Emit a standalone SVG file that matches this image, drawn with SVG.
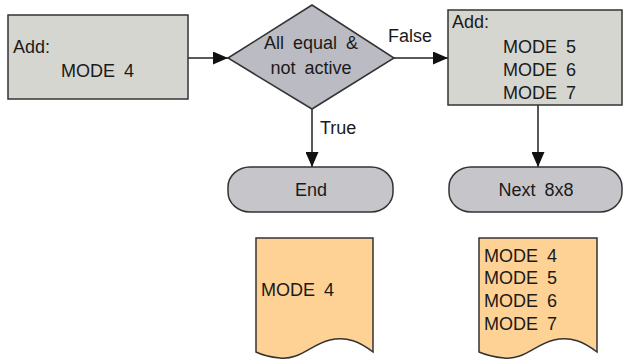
<svg xmlns="http://www.w3.org/2000/svg" width="625" height="362" viewBox="0 0 625 362">
<defs>
<style>
text{font-family:"Liberation Sans",Arial,sans-serif;font-size:18px;fill:#1a1a1a;word-spacing:4px}
.box{fill:#d6d6d0;stroke:#333;stroke-width:1.5}
.dia{fill:#bbbbc3;stroke:#333;stroke-width:1.5}
.term{fill:#c6c6ca;stroke:#333;stroke-width:1.5}
.doc{fill:#fed294;stroke:#333;stroke-width:1.5}
.conn{stroke:#222;stroke-width:1.5;fill:none;marker-end:url(#ah)}
</style>
<marker id="ah" viewBox="0 0 10 10" refX="10" refY="5" markerWidth="15" markerHeight="13" markerUnits="userSpaceOnUse" orient="auto" preserveAspectRatio="none">
<path d="M0,0 L10,5 L0,10 z" fill="#111"/>
</marker>
</defs>
<g id="connectors">
<line class="conn" x1="188" y1="58" x2="228" y2="58"/>
<line class="conn" x1="394" y1="58" x2="448" y2="58"/>
<line class="conn" x1="312" y1="109" x2="312" y2="167"/>
<line class="conn" x1="538" y1="105" x2="538" y2="167"/>
<text x="388" y="42">False</text>
<text x="320" y="134">True</text>
</g>
<g id="add1">
<rect class="box" x="8" y="15" width="180" height="84"/>
<text x="13" y="53">Add:</text>
<text x="61" y="77">MODE 4</text>
</g>
<g id="decision">
<polygon class="dia" points="228,58 312,5 394,58 312,109"/>
<text x="311" y="49" text-anchor="middle">All equal &amp;</text>
<text x="311" y="74" text-anchor="middle">not active</text>
</g>
<g id="add2">
<rect class="box" x="448" y="10" width="174" height="95"/>
<text x="452" y="28">Add:</text>
<text x="503" y="53">MODE 5</text>
<text x="503" y="76">MODE 6</text>
<text x="503" y="99">MODE 7</text>
</g>
<g id="end">
<rect class="term" x="228" y="167" width="165" height="45" rx="22" ry="20"/>
<text x="311" y="196" text-anchor="middle">End</text>
</g>
<g id="next">
<rect class="term" x="449" y="167" width="173" height="45" rx="22" ry="20"/>
<text x="536" y="196" text-anchor="middle">Next 8x8</text>
</g>
<g id="doc1">
<path class="doc" d="M256,238 H373 V352 C360,342 347,336 330,340 C310,345 300,360 280,358 C270,357 262,355 256,352 Z"/>
<text x="261" y="296">MODE 4</text>
</g>
<g id="doc2">
<path class="doc" d="M479,238 H597 V352 C584,342 571,336 554,340 C534,345 524,360 504,358 C494,357 486,355 479,352 Z"/>
<text x="484" y="262">MODE 4</text>
<text x="484" y="284">MODE 5</text>
<text x="484" y="307">MODE 6</text>
<text x="484" y="330">MODE 7</text>
</g>
</svg>
